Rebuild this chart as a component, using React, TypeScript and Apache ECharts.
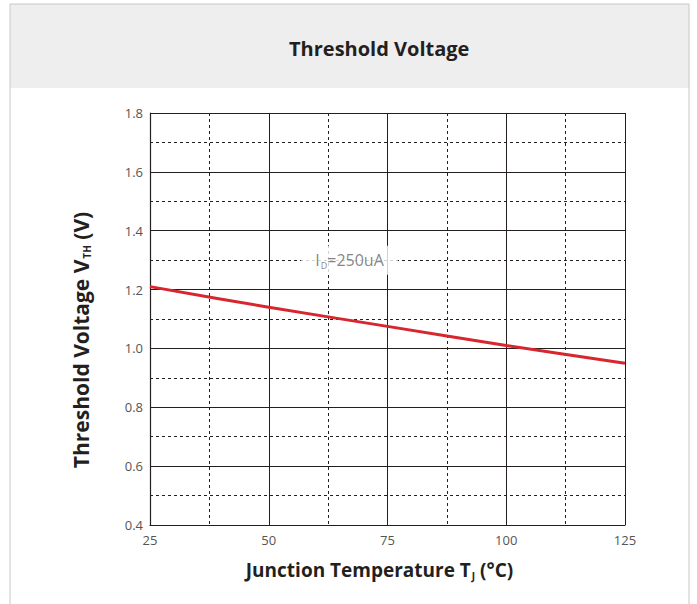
import React, { useEffect, useRef } from "react";
import * as echarts from "echarts";

const temperatures = [25, 50, 75, 100, 125];
const vthValues = [1.21, 1.14, 1.075, 1.01, 0.95];
const annotationAt = [67.0, 1.3];
const titleText = "Threshold Voltage";

const FONT = "'Open Sans', 'Noto Sans', sans-serif";
const INK = "#231f20";

export default function App() {
  const ref = useRef<HTMLDivElement>(null);
  useEffect(() => {
    document.body.style.margin = "0";
    const chart = echarts.init(ref.current!, null, { renderer: "svg" });
    chart.setOption({
      animation: false,
      backgroundColor: "#ffffff",
      graphic: [
        { type: "rect", shape: { x: 10, y: 4, width: 679, height: 84 }, style: { fill: "#eeeeee" }, z: -10 },
        { type: "line", shape: { x1: 10, y1: 4, x2: 689, y2: 4 }, style: { stroke: "#c8c8c8", lineWidth: 1 }, z: -5 },
        { type: "line", shape: { x1: 10, y1: 4, x2: 10, y2: 604 }, style: { stroke: "#c8c8c8", lineWidth: 1 }, z: -5 },
        { type: "line", shape: { x1: 689, y1: 4, x2: 689, y2: 604 }, style: { stroke: "#c8c8c8", lineWidth: 1 }, z: -5 },
      ],
      title: {
        text: titleText,
        left: 284,
        top: 33,
        textStyle: { fontFamily: FONT, fontSize: 20, fontWeight: "bold", color: INK },
      },
      grid: { left: 150, right: 72, top: 113, bottom: 79 },
      xAxis: {
        type: "value",
        min: 25,
        max: 125,
        interval: 25,
        name: "{a|Junction Temperature T}{s|J}{a| (°C)}",
        nameLocation: "middle",
        nameGap: 34,
        nameTextStyle: {
          padding: [0, 16, 0, 0],
          rich: {
            a: { fontFamily: FONT, fontSize: 19, fontWeight: "bold", color: INK },
            s: { fontFamily: FONT, fontSize: 10, fontWeight: "bold", color: INK, padding: [12, 0, 0, 1] },
          },
        },
        axisLine: { show: true, lineStyle: { color: INK, width: 1.2 } },
        axisTick: { show: false },
        axisLabel: { color: "#555", fontFamily: FONT, fontSize: 13, margin: 8 },
        splitLine: { show: true, lineStyle: { color: INK, width: 1 } },
        minorTick: { show: false, splitNumber: 2 },
        minorSplitLine: { show: true, lineStyle: { color: INK, width: 1, type: [3, 3] } },
      },
      yAxis: {
        type: "value",
        min: 0.4,
        max: 1.8,
        interval: 0.2,
        name: "{a|Threshold Voltage V}{s|TH}{a| (V)}",
        nameLocation: "middle",
        nameGap: 58,
        nameTextStyle: {
          padding: [0, 42, 0, 0],
          rich: {
            a: { fontFamily: FONT, fontSize: 21, fontWeight: "bold", color: INK },
            s: { fontFamily: FONT, fontSize: 10, fontWeight: "bold", color: INK, padding: [13, 0, 0, 1] },
          },
        },
        axisLine: { show: true, lineStyle: { color: INK, width: 1.2 } },
        axisTick: { show: false },
        axisLabel: {
          color: "#555",
          fontFamily: FONT,
          fontSize: 13,
          margin: 7,
          formatter: (v: number) => v.toFixed(1),
        },
        splitLine: { show: true, lineStyle: { color: INK, width: 1 } },
        minorTick: { show: false, splitNumber: 2 },
        minorSplitLine: { show: true, lineStyle: { color: INK, width: 1, type: [3, 3] } },
      },
      series: [
        {
          type: "line",
          data: temperatures.map((t, i) => [t, vthValues[i]]),
          smooth: 0.3,
          symbol: "none",
          lineStyle: { color: "#d7262d", width: 3 },
          z: 5,
        },
        {
          type: "scatter",
          data: [annotationAt],
          symbolSize: 0,
          z: 6,
          label: {
            show: true,
            position: "inside",
            formatter: "{i|I}{d|D}{t|=250uA}",
            backgroundColor: "#ffffff",
            padding: [5, 14, 5, 14],
            rich: {
              i: { fontFamily: FONT, fontSize: 16, color: "#666" },
              d: { fontFamily: FONT, fontSize: 9, color: "#666", padding: [10, 0, 0, 1] },
              t: { fontFamily: FONT, fontSize: 16, color: "#666" },
            },
          },
        },
      ],
    });
    return () => chart.dispose();
  }, []);
  return <div ref={ref} style={{ width: 697, height: 604 }} />;
}
